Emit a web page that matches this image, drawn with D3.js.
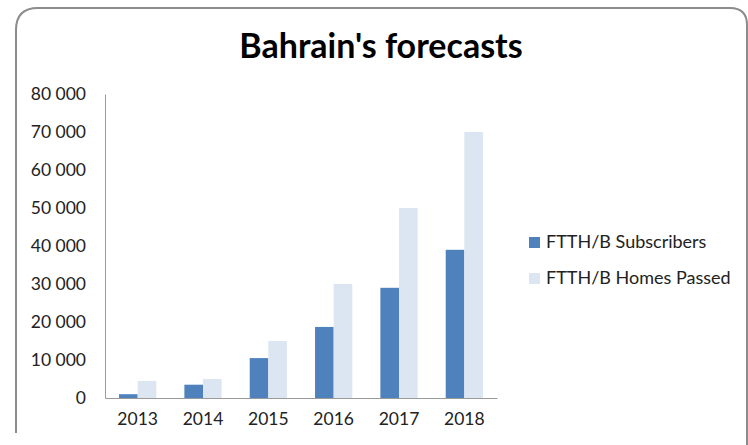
<!DOCTYPE html>
<html>
<head>
<meta charset="utf-8">
<script src="https://cdn.jsdelivr.net/npm/d3@7"></script>
<style>
  body { margin: 0; background: #fff; }
  svg text { font-family: Lato, "Open Sans", sans-serif; fill: #222; }
</style>
</head>
<body>
<script>
(function() {

    const width = 748;
    const height = 445;

    // chart data
    const years = ["2013", "2014", "2015", "2016", "2017", "2018"];
    const subscribers = [1000, 3500, 10500, 18700, 29000, 39000];
    const homesPassed = [4500, 5000, 15000, 30000, 50000, 70000];
    const seriesNames = ["FTTH/B Subscribers", "FTTH/B Homes Passed"];
    const yTicks = [0, 10000, 20000, 30000, 40000, 50000, 60000, 70000, 80000];

    const colors = ["#4f81bd", "#dce6f2"];

    let svg = d3.select("body").append("svg")
        .attr("width", width)
        .attr("height", height);

    // rounded frame, cut off at the bottom like the reference
    svg.append("path")
        .attr("d", "M16,433 L16,30 Q16,8 38,8 L730,8 Q747,8 747,25 L747,445")
        .attr("fill", "none")
        .attr("stroke", "#8c8c8c")
        .attr("stroke-width", 2);

    svg.append("text")
        .attr("x", 381)
        .attr("y", 58)
        .attr("text-anchor", "middle")
        .style("font-size", "34px")
        .style("font-weight", "bold")
        .style("fill", "#000")
        .text("Bahrain's forecasts");

    let x = d3.scaleBand()
        .domain(years)
        .range([105, 497])
        .paddingInner(0.43)
        .paddingOuter(0.215);

    let x1 = d3.scaleBand()
        .domain([0, 1])
        .range([0, x.bandwidth()]);

    let y = d3.scaleLinear()
        .domain([0, 80000])
        .range([398, 94]);

    // y axis
    let yAxis = d3.axisLeft(y)
        .tickValues(yTicks)
        .tickSize(0)
        .tickPadding(19)
        .tickFormat(d => d3.format(",")(d).replace(/,/g, " "));
    let gy = svg.append("g")
        .attr("transform", "translate(105,0)")
        .call(yAxis);
    gy.select(".domain").attr("stroke", "#9a9a9a");
    gy.selectAll("text").style("font-size", "17.5px");

    // bars
    let rows = years.map((yr, i) => ({ year: yr, values: [subscribers[i], homesPassed[i]] }));
    let groups = svg.selectAll(".grp")
        .data(rows)
        .enter()
        .append("g")
        .attr("transform", d => "translate(" + x(d.year) + ",0)");
    groups.selectAll("rect")
        .data(d => d.values.map((v, k) => ({ k: k, v: v })))
        .enter()
        .append("rect")
        .attr("x", d => x1(d.k))
        .attr("y", d => y(d.v))
        .attr("width", x1.bandwidth())
        .attr("height", d => y(0) - y(d.v))
        .attr("fill", d => colors[d.k]);

    // x axis
    let xAxis = d3.axisBottom(x).tickSize(0).tickPadding(15);
    let gx = svg.append("g")
        .attr("transform", "translate(0,398)")
        .call(xAxis);
    gx.select(".domain").attr("stroke", "#9a9a9a");
    gx.selectAll("text").style("font-size", "17.5px");

    // legend
    let legend = svg.selectAll(".legend")
        .data(seriesNames)
        .enter()
        .append("g")
        .attr("transform", (d, i) => "translate(529," + (237 + i * 36) + ")");
    legend.append("rect")
        .attr("width", 11)
        .attr("height", 11)
        .attr("fill", (d, i) => colors[i]);
    legend.append("text")
        .attr("x", 17)
        .attr("y", 11)
        .style("font-size", "18px")
        .text(d => d);

})();
</script>
</body>
</html>
